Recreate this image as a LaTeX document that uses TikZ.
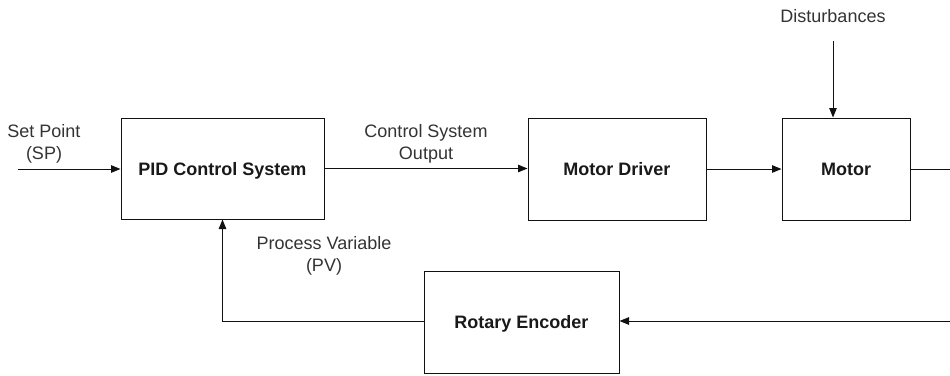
\documentclass[tikz,border=0pt]{standalone}
\usepackage{fontspec}
\setmainfont{Liberation Sans}
\usetikzlibrary{arrows.meta}
\definecolor{lblgray}{HTML}{333333}
\definecolor{linegray}{HTML}{111111}
\begin{document}
\begin{tikzpicture}[x=1pt,y=-1pt,
  blk/.style={draw=linegray, line width=1pt, rectangle, inner sep=0pt,
    font=\fontsize{18}{21}\selectfont\bfseries, text=black!90, text depth=0pt},
  lbl/.style={text=lblgray, align=center, inner sep=0pt,
    font=\fontsize{18}{22}\selectfont},
  conn/.style={draw=linegray, line width=1pt, -{Triangle[length=9.5pt,width=7.5pt]}},
  plain/.style={draw=linegray, line width=1pt}]
\useasboundingbox (0,0) rectangle (950,375);

\node[blk, minimum width=203pt, minimum height=101pt] (pid) at (222.5,168.5) {PID Control System};
\node[blk, minimum width=178pt, minimum height=102pt] (drv) at (617,169) {Motor Driver};
\node[blk, minimum width=128pt, minimum height=102pt] (mot) at (846,169) {Motor};
\node[blk, minimum width=195pt, minimum height=102pt] (enc) at (521.5,322) {Rotary Encoder};

\coordinate (sp) at (18,169);
\coordinate (dist) at (833,41);
\coordinate (out) at (950,169);
\coordinate (fb) at (950,321);

\node[lbl] (splbl) at (44,144) {Set Point\\(SP)};
\node[lbl] (cslbl) at (426,143.5) {Control System\\Output};
\node[lbl] (dlbl) at (833,16) {Disturbances};
\node[lbl] (pvlbl) at (324,256) {Process Variable\\(PV)};

\draw[conn] (sp) -- (sp -| pid.west);
\draw[conn] (pid.east) -- (pid.east -| drv.west);
\draw[conn] (drv.east) -- (drv.east -| mot.west);
\draw[conn] (dist) -- (dist |- mot.north);
\draw[plain] (mot.east) -- (out);
\draw[conn] (fb) -- (fb -| enc.east);
\draw[conn] (enc.west |- fb) -| (pid.south);
\end{tikzpicture}
\end{document}
